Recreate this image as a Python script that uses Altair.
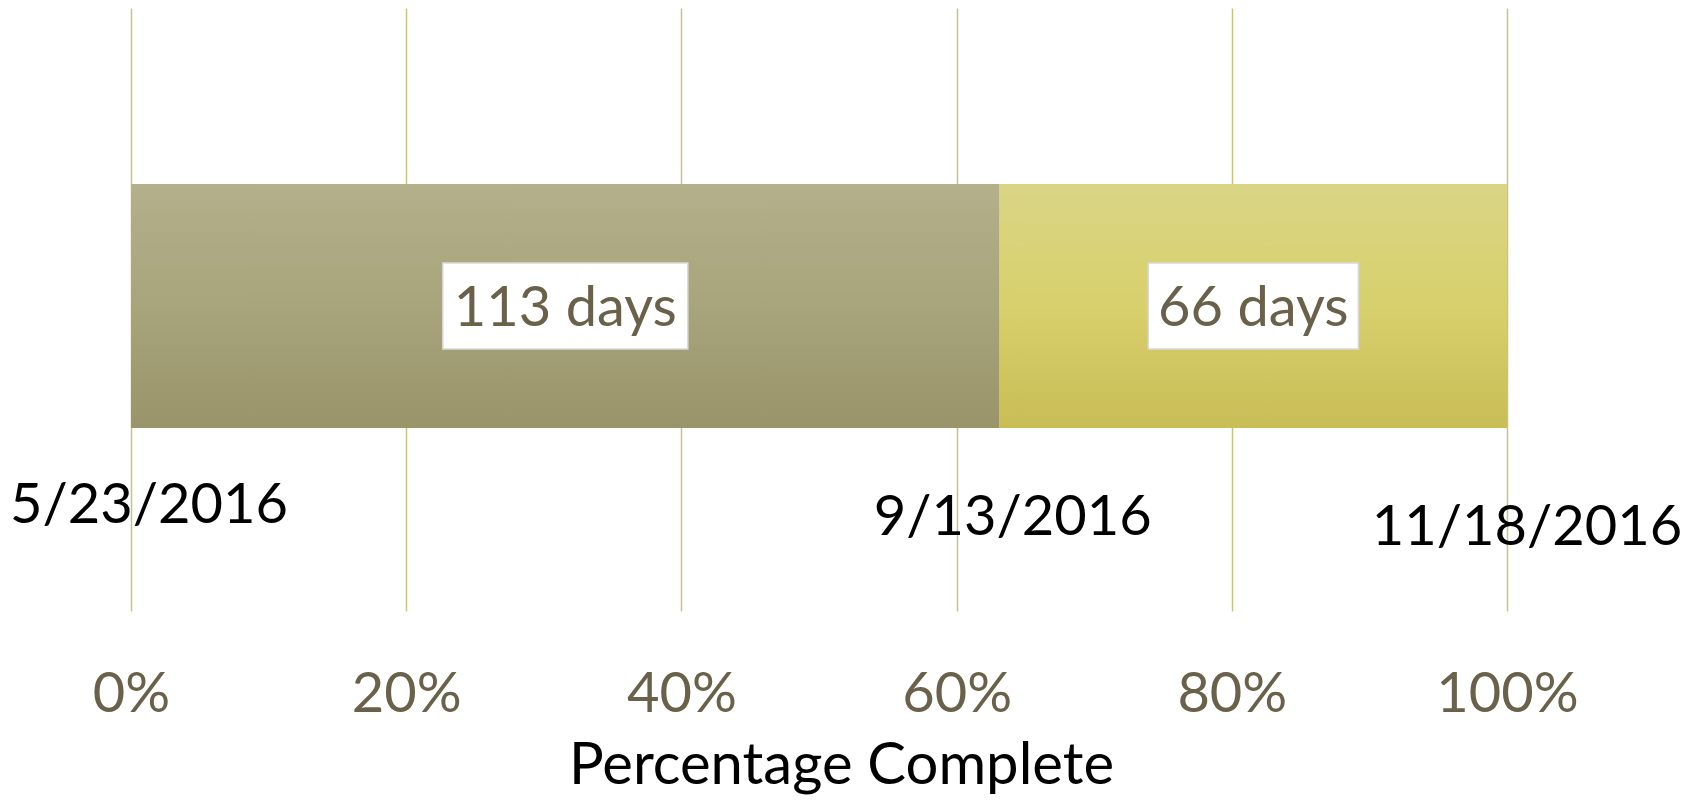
import altair as alt
import pandas as pd

# ---- data ----
phases = ["Elapsed", "Remaining"]
days = [113, 66]
day_labels = ["113 days", "66 days"]
dates = ["5/23/2016", "9/13/2016", "11/18/2016"]
tick_values = [0, 0.2, 0.4, 0.6, 0.8, 1.0]

total = sum(days)
starts, ends = [], []
acc = 0
for d in days:
    starts.append(acc / total)
    acc += d
    ends.append(acc / total)

bars = pd.DataFrame({
    "phase": phases,
    "start": starts,
    "end": ends,
    "mid": [(s + e) / 2 for s, e in zip(starts, ends)],
    "label": day_labels,
    "row": ["r"] * len(phases),
})
date_df = pd.DataFrame({
    "date": dates,
    "pos": [0.0] + ends,
    "row": ["r"] * len(dates),
})

FONT = "Lato"
LABEL_COLOR = "#6a614a"
GRID_COLOR = "#c9c47c"

yenc = alt.Y("row:N", axis=None,
             scale=alt.Scale(paddingInner=0, paddingOuter=0.7357, align=0.4903))

xscale = alt.Scale(domain=[0, 1], nice=False, zero=True)
xaxis = alt.Axis(
    values=tick_values, format=".0%", grid=True, gridColor=GRID_COLOR,
    gridWidth=1.5, domain=False, ticks=False, labelFlush=False,
    labelOverlap=False, labelFont=FONT, labelFontSize=56,
    labelColor=LABEL_COLOR, labelPadding=56,
    title="Percentage Complete", titleFont=FONT, titleFontSize=58,
    titleFontWeight="normal", titleColor="#000000",
    titleX=710, titleY=172, titleBaseline="alphabetic", titleAlign="center",
)

grad_elapsed = alt.Gradient(
    gradient="linear", x1=0, x2=0, y1=0, y2=1,
    stops=[alt.GradientStop(color="#b3b08b", offset=0),
           alt.GradientStop(color="#a8a47b", offset=0.5),
           alt.GradientStop(color="#99946a", offset=1)])
grad_remaining = alt.Gradient(
    gradient="linear", x1=0, x2=0, y1=0, y2=1,
    stops=[alt.GradientStop(color="#dad585", offset=0),
           alt.GradientStop(color="#d8d06c", offset=0.5),
           alt.GradientStop(color="#c8bd56", offset=1)])

base = alt.Chart(bars)

bar1 = base.transform_filter(alt.datum.phase == phases[0]).mark_bar(
    color=grad_elapsed).encode(
    x=alt.X("start:Q", scale=xscale, axis=xaxis),
    x2="end:Q",
    y=yenc,
)
bar2 = base.transform_filter(alt.datum.phase == phases[1]).mark_bar(
    color=grad_remaining).encode(
    x=alt.X("start:Q", scale=xscale),
    x2="end:Q",
    y=yenc,
)

box_widths = [245, 210]
boxes = []
for ph, w in zip(phases, box_widths):
    boxes.append(
        base.transform_filter(alt.datum.phase == ph).mark_rect(
            fill="#ffffff", stroke="#d9d9d9", strokeWidth=1.5,
            width=w, height=86).encode(
            x=alt.X("mid:Q", scale=xscale),
            y=yenc,
        )
    )

day_text = base.mark_text(font=FONT, fontSize=56, color=LABEL_COLOR,
                          baseline="middle", align="center", dy=3).encode(
    x=alt.X("mid:Q", scale=xscale),
    y=yenc,
    text="label:N",
)

# date labels (offsets mimic the original label placement)
date_dx = [18, 13, 20]
date_y = [515, 527, 537]
date_layers = []
for d, dx, yy in zip(dates, date_dx, date_y):
    date_layers.append(
        alt.Chart(date_df).transform_filter(alt.datum.date == d).mark_text(
            font=FONT, fontSize=56, color="#000000", align="center",
            baseline="alphabetic", dx=dx).encode(
            x=alt.X("pos:Q", scale=xscale),
            y=alt.value(yy),
            text="date:N",
        )
    )

chart = alt.layer(bar1, bar2, *boxes, day_text, *date_layers).properties(
    width=1376, height=603,
    autosize=alt.AutoSizeParams(type="none"),
    padding={"left": 123, "top": 0, "right": 182, "bottom": 187},
    background="#ffffff",
).configure_view(stroke=None)

chart.save("out.html", embed_options={"renderer": "svg", "actions": False})
